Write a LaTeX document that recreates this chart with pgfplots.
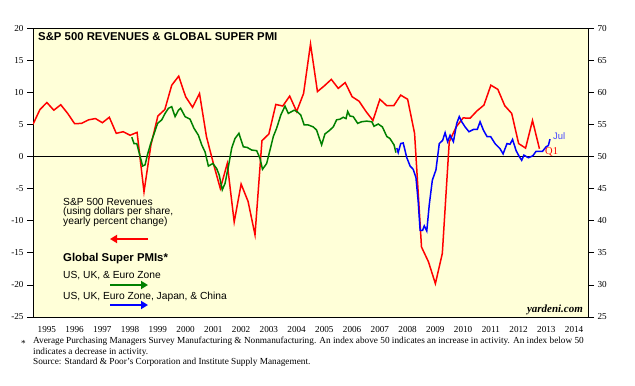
\documentclass[border=0pt]{standalone}
\usepackage{pgfplots}
\pgfplotsset{compat=1.18}
\usepackage{fontspec}
\setmainfont{Liberation Serif}
\newfontfamily\arial{Liberation Sans}
\usetikzlibrary{arrows.meta}
\definecolor{bg}{RGB}{255,255,216}
\definecolor{pgreen}{RGB}{0,128,0}
\definecolor{julblue}{RGB}{70,70,255}
\begin{document}
\begin{tikzpicture}[x=1bp,y=1bp]
\useasboundingbox (0,0) rectangle (635,385);
\pgfplotsset{
  common/.style={
    at={(33bp,68bp)}, anchor=south west,
    scale only axis, width=555bp, height=289bp,
    xmin=1995, xmax=2015,
    major tick length=6bp,
    ticklabel style={font=\fontsize{9.2}{10}\selectfont},
    /pgf/number format/assume math mode=true,
    axis line style={line width=0.8bp},
    every tick/.style={black, line width=0.6bp},
  }
}
\begin{axis}[common,
  ymin=-25, ymax=20, ytick={-25,-20,...,20}, ytick pos=left,
  xtick pos=bottom, tick align=outside,
  xtick={1995.5,1996.5,...,2014.5},
  xticklabels={1995,1996,1997,1998,1999,2000,2001,2002,2003,2004,2005,2006,2007,2008,2009,2010,2011,2012,2013,2014},
  xtick style={draw=none},
  minor xtick={1995,1996,...,2015}, minor tick length=7bp,
  minor x tick style={black, line width=0.6bp},
  xticklabel style={yshift=0bp},
  axis background/.style={fill=bg}]
\addplot[black, line width=0.8bp] coordinates {(1995,0) (2015,0)};
\addplot[red, line width=1.5bp] coordinates {
(1995.00,5.0)(1995.25,7.3)(1995.50,8.4)(1995.75,7.2)(1996.00,8.05)(1996.25,6.7)(1996.50,5.1)(1996.75,5.15)(1997.00,5.7)(1997.25,5.9)(1997.50,5.25)(1997.75,6.1)(1998.00,3.6)(1998.25,3.85)(1998.50,3.3)(1998.75,3.75)(1999.00,-5.5)(1999.25,1.8)(1999.50,6.3)(1999.75,7.3)(2000.00,11.1)(2000.25,12.5)(2000.50,9.3)(2000.75,7.65)(2001.00,9.8)(2001.25,3.1)(2001.50,-1.1)(2001.75,-5.0)(2002.00,-1.1)(2002.25,-10.2)(2002.50,-4.3)(2002.75,-7.0)(2003.00,-12.2)(2003.25,2.45)(2003.50,3.5)(2003.75,8.1)(2004.00,7.85)(2004.25,9.4)(2004.50,7.0)(2004.75,9.8)(2005.00,17.5)(2005.25,10.1)(2005.50,11.0)(2005.75,12.0)(2006.00,10.6)(2006.25,11.5)(2006.50,9.3)(2006.75,8.6)(2007.00,7.0)(2007.25,5.6)(2007.50,8.9)(2007.75,7.9)(2008.00,7.9)(2008.25,9.55)(2008.50,8.9)(2008.75,3.6)(2009.00,-14.1)(2009.25,-16.4)(2009.50,-19.8)(2009.75,-15.1)(2010.00,2.3)(2010.25,4.6)(2010.50,6.0)(2010.75,5.95)(2011.00,7.1)(2011.25,8.0)(2011.50,11.1)(2011.75,10.45)(2012.00,7.9)(2012.25,6.7)(2012.50,2.0)(2012.75,1.3)(2013.00,5.6)(2013.25,1.2)};
\end{axis}
\begin{axis}[common,
  ymin=25, ymax=70, ytick={25,30,...,70},
  axis y line*=right, axis x line=none, tick align=outside]
\addplot[pgreen, line width=1.5bp] coordinates {
(1998.56,53.0)(1998.64,52.0)(1998.74,52.0)(1998.86,50.0)(1998.95,48.5)(1999.04,48.7)(1999.12,50.2)(1999.24,52.0)(1999.36,53.5)(1999.49,55.15)(1999.64,55.7)(1999.76,56.7)(1999.88,57.5)(2000.00,57.75)(2000.12,56.2)(2000.24,57.2)(2000.32,57.5)(2000.48,56.2)(2000.66,55.8)(2000.80,54.4)(2000.96,53.3)(2001.08,51.8)(2001.20,50.7)(2001.32,48.5)(2001.48,48.9)(2001.62,48.1)(2001.71,47.1)(2001.82,44.8)(2001.92,45.8)(2002.04,48.4)(2002.16,51.3)(2002.28,52.8)(2002.42,53.6)(2002.58,51.5)(2002.72,51.4)(2002.88,51.0)(2003.06,50.9)(2003.18,49.7)(2003.27,48.0)(2003.42,48.9)(2003.54,51.0)(2003.66,53.1)(2003.78,54.4)(2003.93,56.45)(2004.08,57.85)(2004.20,56.7)(2004.41,57.2)(2004.52,56.96)(2004.65,56.45)(2004.77,54.9)(2004.92,54.9)(2005.10,54.6)(2005.22,54.1)(2005.40,51.8)(2005.52,53.5)(2005.67,54.0)(2005.82,54.6)(2005.94,55.7)(2006.06,55.8)(2006.18,56.1)(2006.28,55.9)(2006.34,57.0)(2006.42,56.3)(2006.54,56.2)(2006.70,55.15)(2006.84,55.4)(2007.02,55.5)(2007.21,55.4)(2007.29,54.7)(2007.44,55.05)(2007.59,54.6)(2007.75,53.1)(2007.86,52.8)(2008.01,51.8)(2008.08,50.6)};
\addplot[blue, line width=1.5bp] coordinates {
(2008.11,51.3)(2008.16,50.6)(2008.25,52.0)(2008.34,52.1)(2008.47,49.8)(2008.59,48.5)(2008.70,48.0)(2008.80,46.7)(2008.88,43.0)(2008.95,38.5)(2009.04,38.5)(2009.10,39.2)(2009.19,38.4)(2009.28,42.5)(2009.39,46.3)(2009.52,47.9)(2009.64,52.0)(2009.76,52.5)(2009.85,53.7)(2009.94,52.3)(2010.03,53.3)(2010.15,52.3)(2010.27,55.15)(2010.36,56.2)(2010.45,55.4)(2010.57,54.6)(2010.71,53.85)(2010.87,54.2)(2011.01,54.2)(2011.11,55.4)(2011.23,54.1)(2011.36,53.1)(2011.49,53.1)(2011.65,52.0)(2011.83,51.2)(2011.94,50.4)(2012.08,52.0)(2012.19,51.9)(2012.28,52.65)(2012.41,50.9)(2012.52,50.0)(2012.61,49.4)(2012.69,50.2)(2012.85,49.8)(2013.01,50.1)(2013.13,50.8)(2013.24,50.8)(2013.36,50.8)(2013.49,51.5)(2013.57,51.7)(2013.63,52.7)};
\end{axis}
% title and annotations
\node[anchor=west, inner sep=0, font=\arial\bfseries\fontsize{11.4}{13}\selectfont] at (38,348) {S\&P 500 REVENUES \& GLOBAL SUPER PMI};
\node[anchor=west, inner sep=0, font=\arial\fontsize{10.3}{12}\selectfont] at (63,183.3) {S\&P 500 Revenues};
\node[anchor=west, inner sep=0, font=\arial\fontsize{10.3}{12}\selectfont] at (63,173) {(using dollars per share,};
\node[anchor=west, inner sep=0, font=\arial\fontsize{10.3}{12}\selectfont] at (63,163) {yearly percent change)};
\draw[red, line width=2.6bp, -{Triangle[length=7bp,width=8bp]}] (148,146) -- (110,146);
\node[anchor=west, inner sep=0, font=\arial\bfseries\fontsize{11.4}{13}\selectfont] at (63,126) {Global Super PMIs*};
\node[anchor=west, inner sep=0, font=\arial\fontsize{10.3}{12}\selectfont] at (63,109) {US, UK, \& Euro Zone};
\draw[pgreen, line width=2.6bp, -{Triangle[length=7bp,width=8bp]}] (110,100) -- (148,100);
\node[anchor=west, inner sep=0, font=\arial\fontsize{10.3}{12}\selectfont] at (63,88) {US, UK, Euro Zone, Japan, \& China};
\draw[blue, line width=2.6bp, -{Triangle[length=7bp,width=8bp]}] (110,80) -- (148,80);
\node[anchor=east, inner sep=0, font=\bfseries\itshape\fontsize{11}{12}\selectfont] at (583,75) {yardeni.com};
\node[anchor=west, inner sep=0, text=julblue, font=\arial\fontsize{9.5}{11}\selectfont] at (553,249) {Jul};
\node[anchor=west, inner sep=0, text=red, font=\fontsize{10.5}{11}\selectfont] at (545,233) {Q1};
% footnote
\node[anchor=west, inner sep=0, font=\fontsize{9.3}{10}\selectfont] at (21,42) {*};
\node[anchor=north west, inner sep=0, align=left, font=\fontsize{9.3}{10.6}\selectfont] at (33,48) {Average Purchasing Managers Survey Manufacturing \& Nonmanufacturing. An index above 50 indicates an increase in activity. An index below 50\\indicates a decrease in activity.\\Source: Standard \& Poor's Corporation and Institute Supply Management.};
\end{tikzpicture}
\end{document}
